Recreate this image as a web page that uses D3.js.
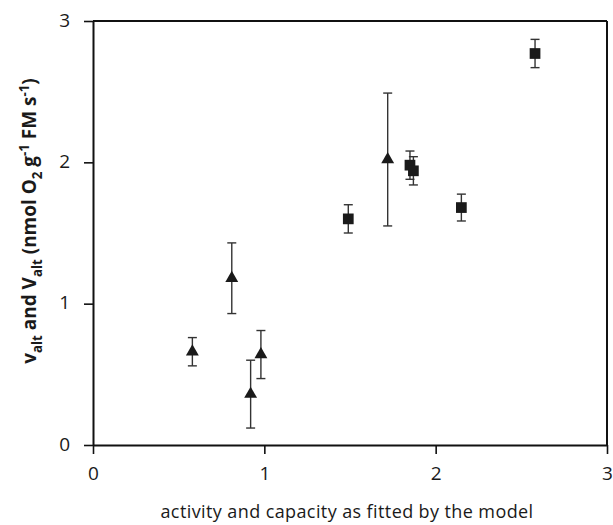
<!DOCTYPE html>
<html>
<head>
<meta charset="utf-8">
<script src="https://cdn.jsdelivr.net/npm/d3@7"></script>
<style>
  html, body { margin: 0; padding: 0; background: #fff; }
  svg { display: block; }
  text { font-family: "Open Sans", "Noto Sans", sans-serif; fill: #1a1a1a; }
</style>
</head>
<body>
<svg id="chart" width="613" height="525"></svg>
<script>
// Axis ticks
const xTicks = [0, 1, 2, 3];
const yTicks = [0, 1, 2, 3];

// Triangle series: x, y, error
const triX   = [0.58, 0.81, 0.92, 0.98, 1.72];
const triY   = [0.66, 1.18, 0.36, 0.64, 2.02];
const triErr = [0.10, 0.25, 0.24, 0.17, 0.47];

// Square series: x, y, error
const sqX   = [1.49, 1.85, 1.87, 2.15, 2.58];
const sqY   = [1.60, 1.98, 1.94, 1.68, 2.77];
const sqErr = [0.10, 0.10, 0.10, 0.095, 0.10];

const xTitle = "activity and capacity as fitted by the model";

const svg = d3.select("#chart");
const m = { left: 93, right: 607, top: 21, bottom: 445 };

const x = d3.scaleLinear().domain([0, 3]).range([m.left, m.right]);
const y = d3.scaleLinear().domain([0, 3]).range([m.bottom, m.top]);

const ink = "#111";

// frame: bottom and left axes with outward ticks, plus top and right border
const xAxis = svg.append("g")
  .attr("transform", `translate(0,${m.bottom})`)
  .call(d3.axisBottom(x).tickValues(xTicks).tickSize(9).tickSizeOuter(0).tickFormat(d3.format("d")));
const yAxis = svg.append("g")
  .attr("transform", `translate(${m.left},0)`)
  .call(d3.axisLeft(y).tickValues(yTicks).tickSize(9).tickSizeOuter(0).tickFormat(d3.format("d")));

[xAxis, yAxis].forEach(g => {
  g.select(".domain").attr("stroke", ink).attr("stroke-width", 2);
  g.selectAll(".tick line").attr("stroke", ink).attr("stroke-width", 1.6);
  g.selectAll(".tick text").attr("fill", "#1a1a1a")
    .style("font-family", '"Open Sans", sans-serif').style("font-size", "19px");
});
xAxis.selectAll(".tick text").attr("y", 0).attr("dy", null)
  .attr("transform", "translate(0,30)").attr("dominant-baseline", "middle");
yAxis.selectAll(".tick text").attr("x", -23).attr("dy", null)
  .attr("dominant-baseline", "middle");

svg.append("line")
  .attr("x1", m.left).attr("x2", m.right)
  .attr("y1", m.top).attr("y2", m.top)
  .attr("stroke", ink).attr("stroke-width", 2);
svg.append("line")
  .attr("x1", m.right).attr("x2", m.right)
  .attr("y1", m.top).attr("y2", m.bottom)
  .attr("stroke", ink).attr("stroke-width", 2);

// x axis title
svg.append("text")
  .attr("x", 347)
  .attr("y", 518)
  .attr("text-anchor", "middle")
  .style("font-size", "18px")
  .style("letter-spacing", "0.4px")
  .text(xTitle);

// y axis title with sub/superscripts, sized to span the plot's left side
const yTitleSpan = 286;
const yt = svg.append("text")
  .attr("text-anchor", "start")
  .style("font-weight", "bold");
const parts = [
  ["v", 0], ["alt", 1], [" and V", 0], ["alt", 1], [" (nmol O", 0], ["2", 1],
  [" g", 0], ["-1", -1], [" FM s", 0], ["-1", -1], [")", 0]
];
function buildTitle(fs) {
  yt.selectAll("tspan").remove();
  let shift = 0;
  parts.forEach(([t, k]) => {
    const target = (k === 1 ? 0.3 : (k === -1 ? -0.36 : 0)) * fs;
    yt.append("tspan")
      .attr("dy", target - shift)
      .style("font-size", (k === 0 ? fs : fs * 0.7) + "px")
      .text(t);
    shift = target;
  });
}
buildTitle(17);
const w0 = yt.node().getBBox().width;
const fsFit = 17 * yTitleSpan / w0;
buildTitle(fsFit);
const bb = yt.node().getBBox();
yt.attr("transform", `translate(36,${221 + bb.width / 2}) rotate(-90)`);

// error bars + markers
function drawSeries(xs, ys, es, symbolType, size) {
  const data = xs.map((v, i) => ({ x: v, y: ys[i], e: es[i] }));
  const g = svg.append("g");
  const eb = g.selectAll("g.eb").data(data).join("g").attr("class", "eb")
    .attr("stroke", "#333").attr("stroke-width", 1.4);
  eb.append("line")
    .attr("x1", d => x(d.x)).attr("x2", d => x(d.x))
    .attr("y1", d => y(d.y + d.e)).attr("y2", d => y(d.y - d.e));
  eb.append("line")
    .attr("x1", d => x(d.x) - 4.5).attr("x2", d => x(d.x) + 4.5)
    .attr("y1", d => y(d.y + d.e)).attr("y2", d => y(d.y + d.e));
  eb.append("line")
    .attr("x1", d => x(d.x) - 4.5).attr("x2", d => x(d.x) + 4.5)
    .attr("y1", d => y(d.y - d.e)).attr("y2", d => y(d.y - d.e));
  g.selectAll("path.mk").data(data).join("path").attr("class", "mk")
    .attr("d", d3.symbol().type(symbolType).size(size))
    .attr("transform", d => `translate(${x(d.x)},${y(d.y)})`)
    .attr("fill", "#1a1a1a");
}
drawSeries(triX, triY, triErr, d3.symbolTriangle, 72);
drawSeries(sqX, sqY, sqErr, d3.symbolSquare, 115);
</script>
</body>
</html>
